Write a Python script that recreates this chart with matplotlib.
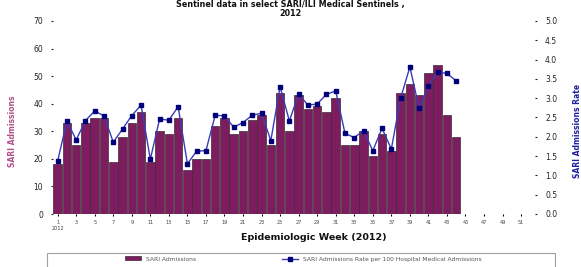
import numpy as np
import matplotlib
matplotlib.use("Agg")
import matplotlib.pyplot as plt
from matplotlib.patches import Rectangle

# SARI admissions per epidemiologic week (weeks 1-44 reported)
admissions = [18, 33, 25, 33, 35, 35, 19, 28, 33, 37,
              19, 30, 29, 35, 16, 20, 20, 32, 35, 29,
              30, 34, 36, 25, 44, 30, 43, 38, 39, 37,
              42, 25, 25, 30, 21, 29, 23, 44, 47, 43,
              51, 54, 36, 28]
# rate per 100 hospital medical admissions
rate = [1.37, 2.41, 1.92, 2.42, 2.67, 2.54, 1.86, 2.20, 2.55, 2.82,
        1.42, 2.46, 2.43, 2.78, 1.30, 1.63, 1.64, 2.56, 2.54, 2.25,
        2.37, 2.56, 2.61, 1.90, 3.30, 2.41, 3.11, 2.82, 2.85, 3.10,
        3.19, 2.09, 1.98, 2.16, 1.64, 2.22, 1.68, 3.00, 3.81, 2.74,
        3.32, 3.68, 3.64, 3.45]
n_weeks = 52
tick_weeks = list(range(1, 52, 2))
tick_labels = [str(w) for w in tick_weeks]
tick_labels[0] = "1\n2012"

bar_color = "#7d1d60"
line_color = "#3b3bb8"
marker_color = "#00007a"

fig = plt.figure(figsize=(5.81, 2.67), dpi=100)
ax = fig.add_axes([53/581, 1 - 214/267, (535 - 53)/581, (214 - 21)/267])

weeks = np.arange(1, len(admissions) + 1)
ax.bar(weeks, admissions, width=0.92, color=bar_color, edgecolor="#3a2a33", linewidth=0.5,
       label="SARI Admissions", zorder=2)
ax.set_xlim(0.5, n_weeks + 0.5)
ax.set_ylim(0, 70)
ax.set_yticks(range(0, 71, 10))
ax.tick_params(axis="y", labelsize=5.5, length=1.2, width=0.8, pad=6, colors="#222222")
ax.set_xticks(tick_weeks)
ax.set_xticklabels(tick_labels, fontsize=3.6, color="#444444")
ax.tick_params(axis="x", length=1.2, width=0.8, pad=3)
for s in ax.spines.values():
    s.set_visible(False)

ax2 = ax.twinx()
ax2.plot(weeks, rate, color=line_color, lw=1.0, marker="s", markersize=3.4,
         markerfacecolor=marker_color, markeredgecolor=marker_color, zorder=3,
         label="SARI Admissions Rate per 100 Hospital Medical Admissions")
ax2.set_ylim(0, 5.0)
ax2.set_yticks(np.arange(0, 5.01, 0.5))
ax2.set_yticklabels([f"{v:.1f}" for v in np.arange(0, 5.01, 0.5)])
ax2.tick_params(axis="y", labelsize=5.5, length=1.2, width=0.8, pad=6, colors="#222222")
for s in ax2.spines.values():
    s.set_visible(False)

fig.text(13/581, 1 - 131/267, "SARI Admissions", rotation=90, ha="center", va="center",
         fontsize=5.5, fontweight="bold", color="#b0508a")
fig.text(577/581, 1 - 131/267, "SARI Admissions Rate", rotation=90, ha="center", va="center",
         fontsize=5.5, fontweight="bold", color="#1f1fa0")
fig.text(314/581, 1 - 237/267, "Epidemiologic Week (2012)", ha="center", va="center",
         fontsize=6.8, fontweight="bold", color="#111111")
fig.text(290/581, 0.999, "Sentinel data in select SARI/ILI Medical Sentinels ,\n2012",
         ha="center", va="top", fontsize=5.8, fontweight="bold", color="#111111",
         linespacing=1.0)

fig.patches.append(Rectangle((47/581, -0.05), (555 - 47)/581, 0.05 + 14/267,
                             transform=fig.transFigure, fill=False,
                             edgecolor="#a0a0a0", lw=0.8))
h1, l1 = ax.get_legend_handles_labels()
h2, l2 = ax2.get_legend_handles_labels()
fig.legend(h1, l1, loc="center left", bbox_to_anchor=(120/581, 1 - 259/267),
           frameon=False, fontsize=4.3, handlelength=2.6, handleheight=0.6,
           labelcolor="#555555")
fig.legend(h2, l2, loc="center left", bbox_to_anchor=(277/581, 1 - 259/267),
           frameon=False, fontsize=4.3, handlelength=2.6, labelcolor="#555555")

fig.savefig("out.png", dpi=100)
